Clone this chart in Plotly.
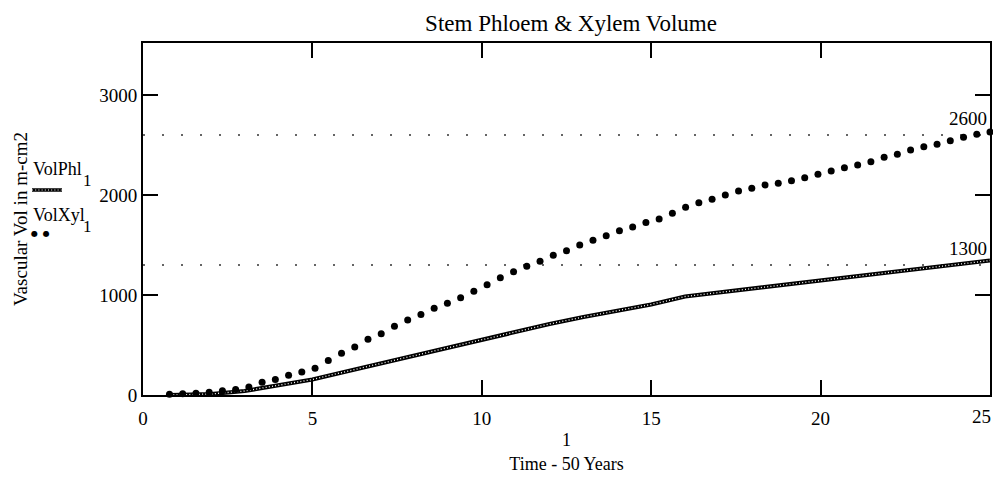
import plotly.graph_objects as go

# Time axis (x units) and series values
xyl_t = [k * 25 / 64 for k in range(2, 65)]
xyl_vol = [8, 12, 18, 28, 42, 55,
           80, 128, 155, 197, 230, 267, 345, 417, 480, 558, 613, 687, 750, 805,
           867, 917, 972, 1038, 1103, 1173, 1233, 1287, 1337, 1397, 1443, 1500,
           1547, 1592, 1643, 1680, 1725, 1760, 1817, 1877, 1923, 1957, 2000,
           2040, 2067, 2100, 2117, 2143, 2173, 2207, 2240, 2273, 2300, 2333,
           2377, 2407, 2450, 2483, 2507, 2543, 2577, 2607, 2630]

phl_t = [0.8, 1, 2, 3, 4, 5, 6, 7, 8, 9, 10, 11, 12, 13, 14, 15, 16, 17, 18,
         19, 20, 21, 22, 23, 24, 25]
phl_vol = [0, 2, 10, 40, 95, 155, 235, 315, 395, 470, 555, 630, 710, 780, 840,
           905, 985, 1025, 1060, 1100, 1140, 1180, 1220, 1265, 1305, 1345]

ref_levels = [2600, 1300]
ref_labels = ["2600", "1300"]

x_ticks = [0, 5, 10, 15, 20, 25]
x_ticktext = ["0", "5", "10", "15", "20", ""]  # last label placed flush right
y_ticks = [0, 1000, 2000, 3000]

SERIF = "Liberation Serif, Times New Roman, serif"
W, H = 993, 478
ML, MR, MT, MB = 143, 3, 43, 83
PW, PH = W - ML - MR, H - MT - MB


def px(xp):
    return (xp - ML) / PW


def py(yp):
    return (H - MB - yp) / PH


fig = go.Figure()

# dotted reference levels
for lvl in ref_levels:
    fig.add_trace(go.Scatter(
        x=[0, 25], y=[lvl, lvl], mode="lines",
        line=dict(color="#333333", width=1.4, dash="2px,17px"),
        hoverinfo="skip", showlegend=False))

# phloem: thick chain-like line
fig.add_trace(go.Scatter(
    x=phl_t, y=phl_vol, mode="lines",
    line=dict(color="black", width=4.2), showlegend=False, name="VolPhl"))
fig.add_trace(go.Scatter(
    x=phl_t, y=phl_vol, mode="lines",
    line=dict(color="white", width=1.3, dash="1px,2.2px"),
    showlegend=False, hoverinfo="skip"))

# xylem: large dots
fig.add_trace(go.Scatter(
    x=xyl_t, y=xyl_vol, mode="markers",
    marker=dict(color="black", size=7, symbol="circle"),
    showlegend=False, name="VolXyl", cliponaxis=False))

annotations = []
for lvl, lab in zip(ref_levels, ref_labels):
    annotations.append(dict(
        x=25, y=lvl, xref="x", yref="y", text=lab, showarrow=False,
        xanchor="right", yanchor="bottom", xshift=-1, yshift=4,
        font=dict(family=SERIF, size=19, color="black")))

# final x tick label, kept inside the page edge
annotations.append(dict(
    x=x_ticks[-1], y=0, xref="x", yref="paper", text=str(x_ticks[-1]),
    showarrow=False, xanchor="right", yanchor="top", xshift=3, yshift=-9,
    font=dict(family=SERIF, size=19, color="black")))

# y-axis title
annotations.append(dict(
    x=px(20), y=py(219), xref="paper", yref="paper",
    text="Vascular Vol in m-cm2", textangle=-90, showarrow=False,
    xanchor="center", yanchor="middle",
    font=dict(family=SERIF, size=19, color="black")))

# legend block: names with lowered index digits
for name, yc in (("VolPhl", 169), ("VolXyl", 215)):
    annotations.append(dict(
        x=px(31), y=py(yc), xref="paper", yref="paper",
        text=name, showarrow=False, xanchor="left", yanchor="middle",
        font=dict(family=SERIF, size=18, color="black")))
    annotations.append(dict(
        x=px(81), y=py(yc + 11), xref="paper", yref="paper",
        text="1", showarrow=False, xanchor="left", yanchor="middle",
        font=dict(family=SERIF, size=17, color="black")))
annotations.append(dict(
    x=px(29), y=py(233), xref="paper", yref="paper",
    text="\u25cf\u2009\u2009\u2009\u25cf", showarrow=False, xanchor="left", yanchor="middle",
    font=dict(family="DejaVu Sans", size=8, color="black")))

shapes = [
    dict(type="line", xref="paper", yref="paper",
         x0=px(32), x1=px(62), y0=py(190), y1=py(190),
         line=dict(color="black", width=3.5)),
    dict(type="line", xref="paper", yref="paper",
         x0=px(32), x1=px(62), y0=py(190), y1=py(190),
         line=dict(color="white", width=1, dash="1px,2.2px")),
]

axis_common = dict(
    showgrid=False, zeroline=False, showline=True, linecolor="black",
    linewidth=2, mirror="ticks", ticks="inside", ticklen=15, tickwidth=2,
    tickcolor="black", automargin=False,
    tickfont=dict(family=SERIF, size=19, color="black"))

fig.update_layout(
    width=W, height=H, margin=dict(l=ML, r=MR, t=MT, b=MB, autoexpand=False),
    paper_bgcolor="white", plot_bgcolor="white",
    title=dict(text="Stem Phloem & Xylem Volume", x=571 / W, xanchor="center",
               y=1 - 23 / H, yanchor="middle",
               font=dict(family=SERIF, size=23, color="black")),
    xaxis=dict(range=[0, 25], tickvals=x_ticks, ticktext=x_ticktext,
               ticklabelstandoff=5,
               title=dict(text="1<br>Time - 50 Years", standoff=6,
                          font=dict(family=SERIF, size=18, color="black")),
               **axis_common),
    yaxis=dict(range=[0, 3520], tickvals=y_ticks, **axis_common),
    annotations=annotations, shapes=shapes, showlegend=False)

fig.write_html("out.html")
